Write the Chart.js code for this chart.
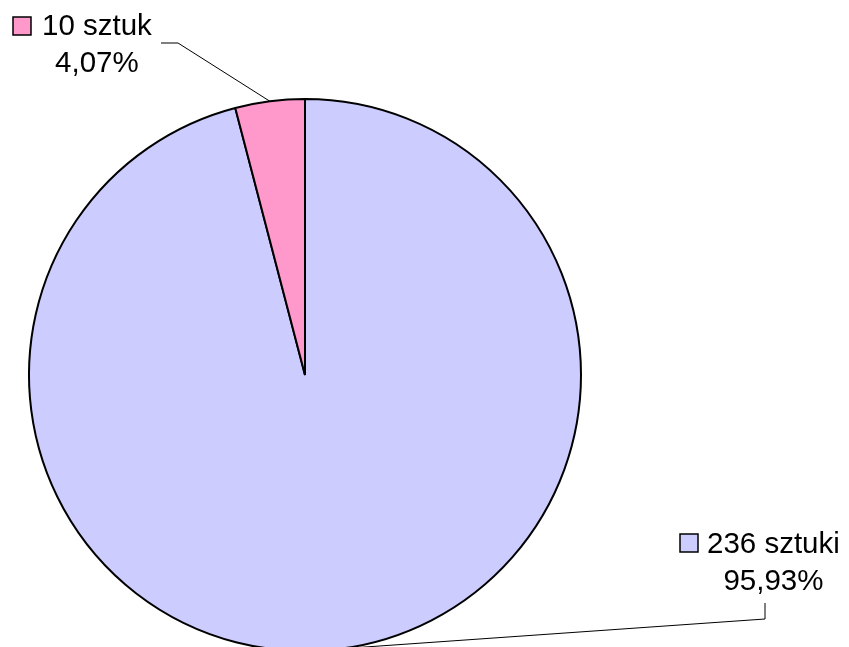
<!DOCTYPE html>
<html>
<head>
<meta charset="utf-8">
<script src="https://cdn.jsdelivr.net/npm/chart.js@4/dist/chart.umd.min.js"></script>
<style>
    html, body { margin: 0; padding: 0; background: #fff; overflow: hidden; }
    #wrap { width: 849px; height: 647px; overflow: hidden; }
</style>
</head>
<body>
<div id="wrap"><canvas id="pieChart" width="849" height="660"></canvas></div>
<script>
// Chart data
const categories = ["236 sztuki", "10 sztuk"];
const counts = [236, 10];
const percentLabels = ["95,93%", "4,07%"];
const sliceColors = ["#ccccff", "#ff99cc"];

// Where each label sits (box top-left, baseline of first line) and its leader bend
const labelSpots = [
    { boxX: 680, boxY: 534, textX: 707, line1: 553, line2: 590, leader: [[765, 603], [765, 619]] },
    { boxX: 13, boxY: 17, textX: 42, line1: 35, line2: 72, leader: [[161, 43], [178, 43]] },
];

const pieLabels = {
    id: "pieLabels",
    afterDraw(chart) {
        const ctx = chart.ctx;
        const arcs = chart.getDatasetMeta(0).data;
        ctx.save();
        ctx.font = "29.5px 'Liberation Sans', Arial, sans-serif";
        ctx.textBaseline = "alphabetic";

        arcs.forEach((arc, i) => {
            const spot = labelSpots[i];
            const p = arc.getProps(["x", "y", "startAngle", "endAngle", "outerRadius"], true);
            const mid = (p.startAngle + p.endAngle) / 2;
            const ex = p.x + Math.cos(mid) * p.outerRadius;
            const ey = p.y + Math.sin(mid) * p.outerRadius;

            // leader line
            ctx.strokeStyle = "#000";
            ctx.lineWidth = 1;
            ctx.beginPath();
            ctx.moveTo(spot.leader[0][0], spot.leader[0][1]);
            ctx.lineTo(spot.leader[1][0], spot.leader[1][1]);
            ctx.lineTo(ex, ey);
            ctx.stroke();

            // legend box
            ctx.fillStyle = sliceColors[i];
            ctx.fillRect(spot.boxX, spot.boxY, 18, 18);
            ctx.lineWidth = 1.5;
            ctx.strokeRect(spot.boxX, spot.boxY, 18, 18);

            // text
            ctx.fillStyle = "#000";
            ctx.textAlign = "left";
            ctx.fillText(categories[i], spot.textX, spot.line1);
            const w = ctx.measureText(categories[i]).width;
            ctx.textAlign = "center";
            ctx.fillText(percentLabels[i], spot.textX + w / 2, spot.line2);
        });
        ctx.restore();
    },
};

new Chart(document.getElementById("pieChart"), {
    type: "pie",
    data: {
        labels: categories,
        datasets: [
            {
                data: counts,
                backgroundColor: sliceColors,
                borderColor: "#000",
                borderWidth: 2,
            },
        ],
    },
    options: {
        responsive: false,
        animation: false,
        layout: {
            padding: { left: 28, right: 267, top: 98, bottom: 8 },
        },
        plugins: {
            legend: { display: false },
            tooltip: { enabled: false },
        },
    },
    plugins: [pieLabels],
});
</script>
</body>
</html>
